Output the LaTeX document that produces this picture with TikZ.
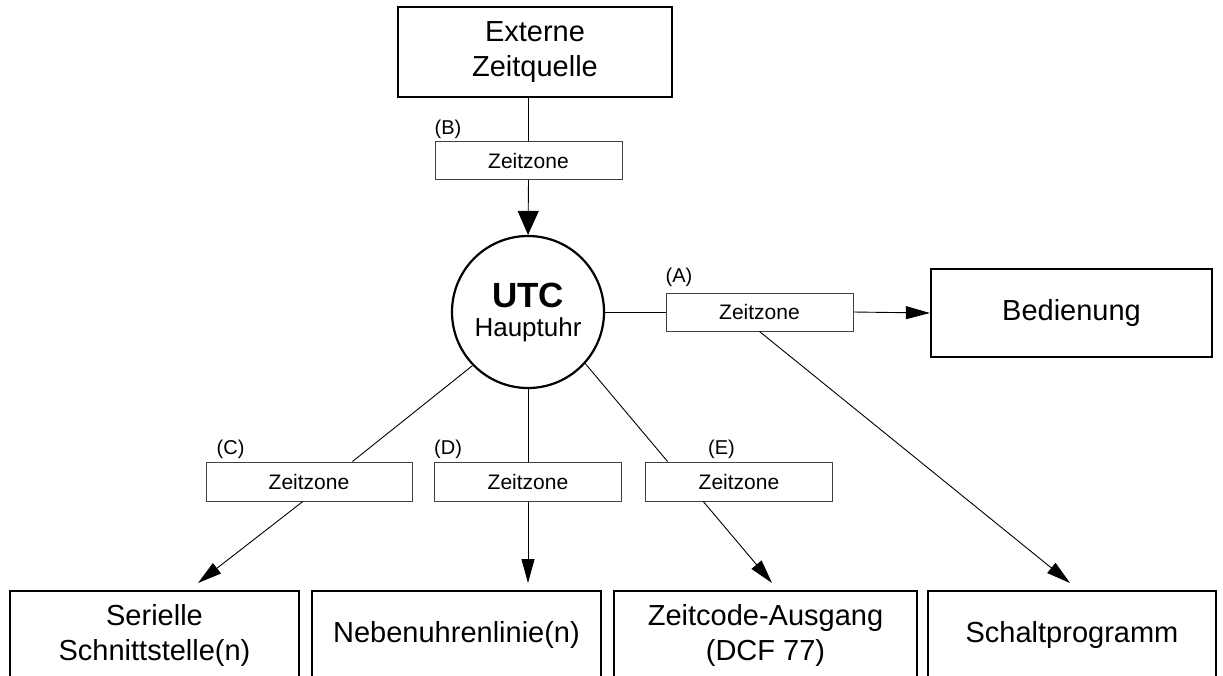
\documentclass[tikz,border=0pt]{standalone}
\usepackage{fontspec}
\setmainfont{Liberation Sans}
\usetikzlibrary{positioning,calc,arrows.meta}
\tikzset{
    main-box/.style = {draw=black, line width=2.2pt, rectangle, inner sep=0pt, align=center, font=\fontsize{29}{35}\selectfont},
    zone-box/.style = {draw=black!75, line width=1pt, fill=white, rectangle, inner sep=0pt, minimum width=187pt, minimum height=38pt, font=\fontsize{21}{25}\selectfont},
    zone-label/.style = {inner sep=0pt, font=\fontsize{20}{24}\selectfont},
    clock-circle/.style = {draw=black, line width=2.2pt, circle, minimum size=152pt, inner sep=0pt, align=center, font=\fontsize{26}{29}\selectfont},
    link/.style = {draw=black, line width=0.9pt},
    arrow-tip/.style = {-{Triangle[length=24pt,width=13pt]}},
    wide-tip/.style = {-{Triangle[length=24pt,width=21pt]}},
}

\begin{document}
\begin{tikzpicture}[x=1pt, y=-1pt]
\useasboundingbox (0,0) rectangle (1223,675);
\clip (0,0) rectangle (1223,675);
\node [main-box, minimum width=274pt, minimum height=90pt] (ext) at (535,52) {Externe\\Zeitquelle};
\node [zone-box] (zB) at (528.5,160.5) {Zeitzone};
\node [zone-label, above right=2pt and 0pt] (labB) at (zB.north west) {(B)};
\node [clock-circle] (utc) at (528,312) {{\fontsize{35}{29}\selectfont\bfseries UTC}\\Hauptuhr};
\node [zone-box] (zA) at (759.5,312) {Zeitzone};
\node [zone-label, above right=6pt and 0pt] (labA) at (zA.north west) {(A)};
\node [main-box, minimum width=281pt, minimum height=88pt] (bed) at (1071.5,313) {Bedienung};
\node [zone-box, minimum width=206pt, minimum height=39pt] (zC) at (309,481.5) {Zeitzone};
\node [zone-label, above right=3pt and 11pt] (labC) at (zC.north west) {(C)};
\node [zone-box, minimum height=39pt] (zD) at (528,481.5) {Zeitzone};
\node [zone-label, above right=3pt and 0pt] (labD) at (zD.north west) {(D)};
\node [zone-box, minimum height=39pt] (zE) at (739,481.5) {Zeitzone};
\node [zone-label, above right=3pt and 63pt] (labE) at (zE.north west) {(E)};
\node [main-box, minimum width=289pt, minimum height=88pt] (ser) at (154.5,635) {Serielle\\Schnittstelle(n)};
\node [main-box, minimum width=289pt, minimum height=88pt] (neb) at (456.5,635) {Nebenuhrenlinie(n)};
\node [main-box, minimum width=303pt, minimum height=88pt] (zco) at (765.5,635) {Zeitcode-Ausgang\\(DCF 77)};
\node [main-box, minimum width=288pt, minimum height=88pt] (sch) at (1072,635) {Schaltprogramm};
\coordinate (tipC) at (198,583);
\coordinate (tipD) at (528,583);
\coordinate (tipE) at (772,583);
\coordinate (tipS) at (1070,583);

\draw [link] (ext.south -| zB.north) -- (zB.north);
\draw [link, wide-tip] (zB.south) -- (utc.north);
\draw [link] (utc.east) -- (zA.west);
\draw [link, arrow-tip] (zA.east) -- (bed.west);
\draw [link, arrow-tip] (zA.south) -- (tipS);
\draw [link] (utc.-136) -- ($(zC.north west)!0.71!(zC.north east)$);
\draw [link, arrow-tip] ($(zC.south west)!0.47!(zC.south east)$) -- (tipC);
\draw [link] (utc.south) -- (zD.north);
\draw [link, arrow-tip] (zD.south) -- (tipD);
\draw [link] (utc.-42) -- ($(zE.north west)!0.12!(zE.north east)$);
\draw [link, arrow-tip] ($(zE.south west)!0.31!(zE.south east)$) -- (tipE);
\end{tikzpicture}
\end{document}
